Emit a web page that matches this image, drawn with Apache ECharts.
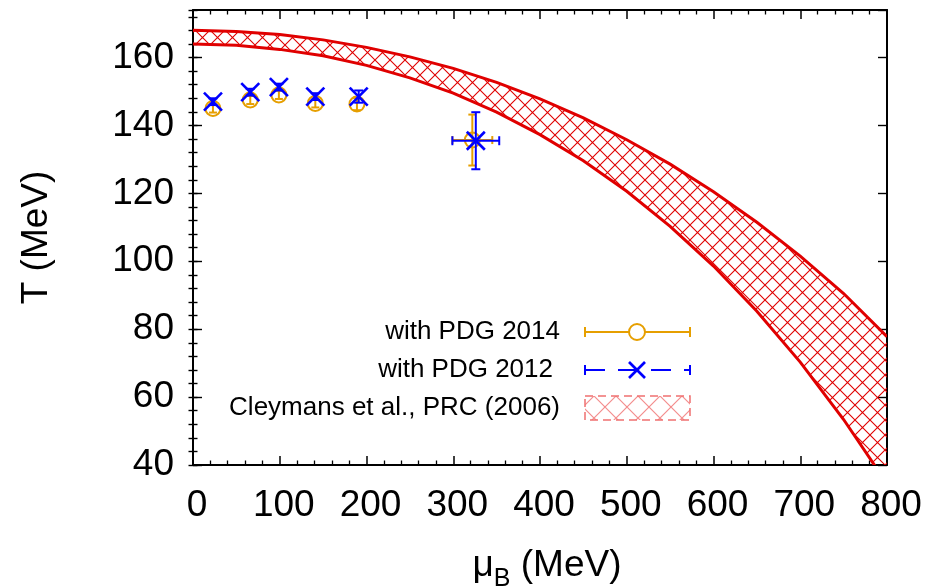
<!DOCTYPE html>
<html>
<head>
<meta charset="utf-8">
<script src="https://cdn.jsdelivr.net/npm/echarts@6.0.0/dist/echarts.min.js"></script>
<style>
html,body{margin:0;padding:0;background:#fff;}
#chart{width:928px;height:588px;}
</style>
</head>
<body>
<div id="chart"></div>
<script>
// ---------------- data ----------------
const xTickLabels = [0, 100, 200, 300, 400, 500, 600, 700, 800];
const yTickLabels = [40, 60, 80, 100, 120, 140, 160];

// with PDG 2014 (orange circles)
const pdg14Mu    = [23, 66, 99, 141, 189, 322];
const pdg14T     = [145.0, 147.5, 149.0, 146.5, 146.3, 135.7];
const pdg14MuErr = [0, 0, 0, 0, 0, 23];
const pdg14TErr  = [1.2, 1.2, 1.2, 1.2, 1.8, 7.5];

// with PDG 2012 (blue crosses)
const pdg12Mu    = [23, 66, 99, 141, 191, 326];
const pdg12T     = [147.0, 149.8, 151.3, 148.5, 148.5, 135.5];
const pdg12MuErr = [0, 0, 0, 0, 0, 27];
const pdg12TErr  = [1.0, 1.0, 1.0, 1.0, 1.8, 8.4];

// Cleymans et al., PRC (2006) band: upper and lower edges
const bandMu    = [0, 50, 100, 150, 200, 250, 300, 350, 400, 450, 500, 550, 600, 650, 700, 750, 800];
const bandUpper = [168.0, 167.7, 166.8, 165.2, 163.0, 160.2, 156.8, 152.7, 147.8, 142.2, 135.8, 128.6, 120.5, 111.5, 101.5, 90.5, 77.8];
const bandLower = [164.0, 163.6, 162.4, 160.5, 157.7, 154.0, 149.5, 143.9, 137.3, 129.6, 120.6, 110.3, 98.6, 85.3, 70.3, 53.4, 34.5];

// ---------------- styles ----------------
const FONT = '"Liberation Sans", Arial, Helvetica, sans-serif';
const ORANGE = '#e69f00';
const BLUE = '#0000ff';
const RED = '#e00000';

function makeHatch(size, color, lw, alpha) {
  const c = document.createElement('canvas');
  c.width = size; c.height = size;
  const g = c.getContext('2d');
  g.strokeStyle = color; g.lineWidth = lw; g.globalAlpha = alpha;
  g.beginPath();
  for (let k = -1; k <= 1; k++) {
    g.moveTo(k * size, 0); g.lineTo(k * size + size, size);
    g.moveTo(k * size + size, 0); g.lineTo(k * size, size);
  }
  g.stroke();
  return c;
}
const hatch = makeHatch(15, RED, 1.1, 1);
const hatchLegend = makeHatch(22, '#f07070', 1.2, 0.8);

function errRender(color, kind, dash) {
  return function (params, api) {
    const mu = api.value(0), t = api.value(1), dmu = api.value(2), dt = api.value(3);
    const c = api.coord([mu, t]);
    const ls = { stroke: color, lineWidth: 2, fill: null, lineDash: dash };
    const cap = kind === 'circle' ? 4 : 4.5;
    const ch = [];
    if (dt > 0) {
      const a = api.coord([mu, t + dt]), b = api.coord([mu, t - dt]);
      ch.push({ type: 'line', shape: { x1: a[0], y1: a[1], x2: b[0], y2: b[1] }, style: ls });
      ch.push({ type: 'line', shape: { x1: a[0] - cap, y1: a[1], x2: a[0] + cap, y2: a[1] }, style: { stroke: color, lineWidth: 2 } });
      ch.push({ type: 'line', shape: { x1: b[0] - cap, y1: b[1], x2: b[0] + cap, y2: b[1] }, style: { stroke: color, lineWidth: 2 } });
    }
    if (dmu > 0) {
      const a = api.coord([mu - dmu, t]), b = api.coord([mu + dmu, t]);
      ch.push({ type: 'line', shape: { x1: a[0], y1: a[1], x2: b[0], y2: b[1] }, style: ls });
      ch.push({ type: 'line', shape: { x1: a[0], y1: a[1] - cap, x2: a[0], y2: a[1] + cap }, style: { stroke: color, lineWidth: 2 } });
      ch.push({ type: 'line', shape: { x1: b[0], y1: b[1] - cap, x2: b[0], y2: b[1] + cap }, style: { stroke: color, lineWidth: 2 } });
    }
    if (kind === 'circle') {
      ch.push({ type: 'circle', shape: { cx: c[0], cy: c[1], r: 7.5 }, style: { fill: 'rgba(0,0,0,0)', stroke: color, lineWidth: 2 } });
    } else {
      const s = 9;
      ch.push({ type: 'line', shape: { x1: c[0] - s, y1: c[1] - s, x2: c[0] + s, y2: c[1] + s }, style: { stroke: color, lineWidth: 2.6 } });
      ch.push({ type: 'line', shape: { x1: c[0] - s, y1: c[1] + s, x2: c[0] + s, y2: c[1] - s }, style: { stroke: color, lineWidth: 2.6 } });
    }
    return { type: 'group', children: ch };
  };
}

function bandRender(params, api) {
  const up = bandMu.map((m, i) => api.coord([m, bandUpper[i]]));
  const lo = bandMu.map((m, i) => api.coord([m, bandLower[i]]));
  const poly = up.concat(lo.slice().reverse());
  const cs = params.coordSys;
  return {
    type: 'group',
    clipPath: { type: 'rect', shape: { x: cs.x, y: cs.y, width: cs.width, height: cs.height } },
    children: [
      { type: 'polygon', shape: { points: poly }, style: { fill: { image: hatch, repeat: 'repeat' }, stroke: null } },
      { type: 'polyline', shape: { points: up }, style: { stroke: RED, lineWidth: 3, fill: null } },
      { type: 'polyline', shape: { points: lo }, style: { stroke: RED, lineWidth: 3, fill: null } }
    ]
  };
}

const axisLine = { show: true, onZero: false, lineStyle: { color: '#000', width: 2 } };
function xAx(pos, withLabel) {
  return {
    type: 'value', min: 0, max: 800, interval: 100, position: pos,
    axisLine: axisLine,
    axisTick: { show: true, inside: true, length: 9, lineStyle: { color: '#000', width: 1.5 } },
    minorTick: { show: true, splitNumber: 5, length: 4.5, lineStyle: { color: '#000', width: 1.3 } },
    splitLine: { show: false }, minorSplitLine: { show: false },
    axisLabel: withLabel ? {
      show: true, fontSize: 37, color: '#000', fontFamily: FONT, margin: 22,
      padding: [0, 0, 0, 8],
      formatter: v => (xTickLabels.indexOf(v) >= 0 ? String(v) : '')
    } : { show: false },
    name: withLabel ? '{a|μ}{b|B}{a| (MeV)}' : '',
    nameLocation: 'middle', nameGap: 82,
    nameTextStyle: {
      color: '#000', fontFamily: FONT, fontSize: 37, padding: [0, 0, 0, 14],
      rich: {
        a: { fontSize: 37, fontFamily: FONT, color: '#000', verticalAlign: 'top', lineHeight: 40 },
        b: { fontSize: 25, fontFamily: FONT, color: '#000', verticalAlign: 'top', lineHeight: 26, padding: [20, 0, 0, 0] }
      }
    }
  };
}
function yAx(pos, withLabel, interval, tickLen, showLine) {
  return {
    type: 'value', min: 40, max: 174, interval: interval, position: pos,
    axisLine: showLine ? axisLine : { show: false },
    axisTick: { show: true, inside: true, length: tickLen, lineStyle: { color: '#000', width: 1.4 } },
    splitLine: { show: false },
    axisLabel: withLabel ? {
      show: true, fontSize: 37, color: '#000', fontFamily: FONT, margin: 19,
      showMaxLabel: false,
      formatter: v => (yTickLabels.indexOf(v) >= 0 ? String(v) : '')
    } : { show: false },
    name: withLabel ? 'T (MeV)' : '',
    nameLocation: 'middle', nameGap: 138,
    nameTextStyle: { color: '#000', fontFamily: FONT, fontSize: 37 }
  };
}

const chart = echarts.init(document.getElementById('chart'), null, { renderer: 'canvas' });
chart.setOption({
  animation: false,
  backgroundColor: '#fff',
  grid: { left: 193, top: 10, width: 694, height: 455, containLabel: false, outerBoundsMode: 'none' },
  xAxis: [xAx('bottom', true), xAx('top', false)],
  yAxis: [
    yAx('left', true, 20, 9, true),
    yAx('left', false, 4, 4.5, false),
    yAx('right', false, 20, 9, true),
    yAx('right', false, 4, 4.5, false)
  ],
  series: [
    {
      name: 'with PDG 2014', type: 'custom', xAxisIndex: 0, yAxisIndex: 0, z: 3,
      renderItem: errRender(ORANGE, 'circle', null),
      data: pdg14Mu.map((m, i) => [m, pdg14T[i], pdg14MuErr[i], pdg14TErr[i]])
    },
    {
      name: 'with PDG 2012', type: 'custom', xAxisIndex: 0, yAxisIndex: 0, z: 4,
      renderItem: errRender(BLUE, 'cross', null),
      data: pdg12Mu.map((m, i) => [m, pdg12T[i], pdg12MuErr[i], pdg12TErr[i]])
    },
    {
      name: 'Cleymans et al., PRC (2006)', type: 'custom', xAxisIndex: 0, yAxisIndex: 0, z: 2,
      clip: true,
      renderItem: bandRender,
      data: [[bandMu[0], bandUpper[0]]]
    }
  ],
  graphic: [
    { type: 'text', z: 10, style: { text: 'with PDG 2014', x: 560, y: 332, fill: '#000', font: '26px ' + FONT, textAlign: 'right', textVerticalAlign: 'middle', verticalAlign: 'middle' } },
    { type: 'line', z: 10, shape: { x1: 585, y1: 332, x2: 690, y2: 332 }, style: { stroke: ORANGE, lineWidth: 2 } },
    { type: 'line', z: 10, shape: { x1: 585, y1: 327, x2: 585, y2: 337 }, style: { stroke: ORANGE, lineWidth: 2 } },
    { type: 'line', z: 10, shape: { x1: 690, y1: 327, x2: 690, y2: 337 }, style: { stroke: ORANGE, lineWidth: 2 } },
    { type: 'circle', z: 11, shape: { cx: 637, cy: 332, r: 8 }, style: { fill: '#fff', stroke: ORANGE, lineWidth: 2 } },

    { type: 'text', z: 10, style: { text: 'with PDG 2012', x: 553, y: 370, fill: '#000', font: '26px ' + FONT, textAlign: 'right', textVerticalAlign: 'middle', verticalAlign: 'middle' } },
    { type: 'line', z: 10, shape: { x1: 585, y1: 370, x2: 690, y2: 370 }, style: { stroke: BLUE, lineWidth: 2, lineDash: [20, 13] } },
    { type: 'line', z: 10, shape: { x1: 585, y1: 365, x2: 585, y2: 375 }, style: { stroke: BLUE, lineWidth: 2 } },
    { type: 'line', z: 10, shape: { x1: 690, y1: 365, x2: 690, y2: 375 }, style: { stroke: BLUE, lineWidth: 2 } },
    { type: 'line', z: 11, shape: { x1: 629, y1: 362, x2: 645, y2: 378 }, style: { stroke: BLUE, lineWidth: 2.6 } },
    { type: 'line', z: 11, shape: { x1: 629, y1: 378, x2: 645, y2: 362 }, style: { stroke: BLUE, lineWidth: 2.6 } },

    { type: 'text', z: 10, style: { text: 'Cleymans et al., PRC (2006)', x: 560, y: 408, fill: '#000', font: '26px ' + FONT, textAlign: 'right', textVerticalAlign: 'middle', verticalAlign: 'middle' } },
    { type: 'rect', z: 10, shape: { x: 585, y: 396, width: 105, height: 24 }, style: { fill: { image: hatchLegend, repeat: 'repeat' }, stroke: '#f07070', lineWidth: 1.5, lineDash: [8, 5] } }
  ]
});
</script>
</body>
</html>
